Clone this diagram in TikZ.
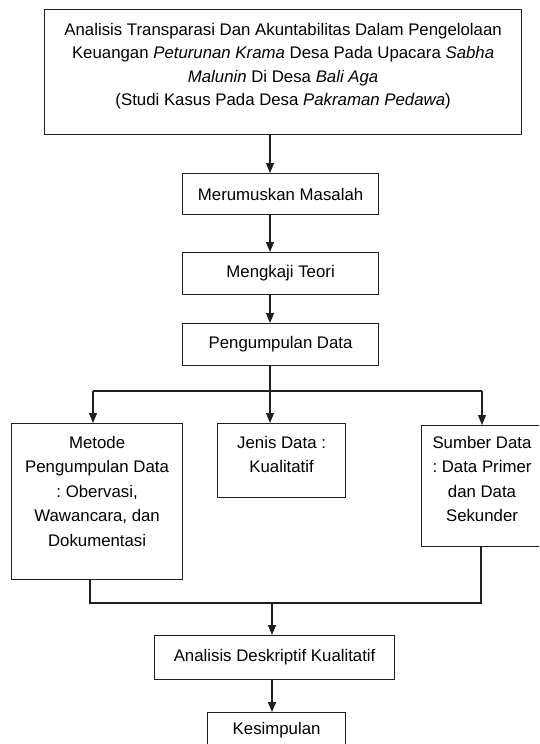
\documentclass[tikz,border=0pt]{standalone}
\usepackage{fontspec}
\setmainfont{Liberation Sans}
\usetikzlibrary{arrows.meta,positioning}
\def\normaledge{1.2}
\definecolor{edgeblack}{rgb}{0.12,0.12,0.12}
\tikzset{
  box/.style={draw=edgeblack, line width=\normaledge, anchor=north west, inner sep=0pt},
  stepbox/.style={box, align=center, font=\fontsize{16.8}{24}\selectfont},
  boxtext/.style={align=center, anchor=north, inner sep=0pt, font=\fontsize{16.8}{24.5}\selectfont\frenchspacing},
  flow/.style={draw=edgeblack, line width=\normaledge, -{Triangle[length=10pt,width=8pt]}},
  link/.style={draw=edgeblack, line width=\normaledge}
}

\begin{document}
\begin{tikzpicture}[x=1pt, y=-1pt]
\clip (0,0) rectangle (539,744);

% spine of the flow
\coordinate (spine) at (270,0);
\coordinate (split) at (0,391);
\coordinate (merge) at (0,603);
\coordinate (leftcol) at (93,0);
\coordinate (rightcol) at (482,0);
\coordinate (leftout) at (90,0);
\coordinate (rightout) at (481,0);
\coordinate (lowspine) at (272,0);

\node [box, minimum width=477, minimum height=125] (judul) at (44,9) {};
\node [boxtext, font=\fontsize{16.8}{23.5}\selectfont] (judultext) at ([yshift=-14]judul.north)
  {Analisis Transparasi Dan Akuntabilitas Dalam Pengelolaan\\
   Keuangan \textit{Peturunan Krama} Desa Pada Upacara \textit{Sabha}\\
   \textit{Malunin} Di Desa \textit{Bali Aga}\\
   (Studi Kasus Pada Desa \textit{Pakraman Pedawa})};

\node [stepbox, minimum width=196, minimum height=41] (rumusan) at (182,173) {Merumuskan Masalah};
\node [stepbox, minimum width=196, minimum height=42] (teori) at (182,252) {Mengkaji Teori};
\node [stepbox, minimum width=196, minimum height=42] (pengumpulan) at (182,323) {Pengumpulan Data};

\draw [flow] (judul.south -| spine) -- (rumusan.north -| spine);
\draw [flow] (rumusan.south -| spine) -- (teori.north -| spine);
\draw [flow] (teori.south -| spine) -- (pengumpulan.north -| spine);

% three branches
\node [box, minimum width=171, minimum height=156] (metode) at (11,423) {};
\node [boxtext] (metodetext) at ([yshift=-13]metode.north)
  {Metode\\ Pengumpulan Data\\ : Obervasi,\\ Wawancara, dan\\ Dokumentasi};

\node [box, minimum width=128, minimum height=74] (jenis) at (217,423) {};
\node [boxtext] (jenistext) at ([yshift=-13]jenis.north) {Jenis Data :\\ Kualitatif};

\node [box, minimum width=124, minimum height=121] (sumber) at (421,425) {};
\node [boxtext] (sumbertext) at ([yshift=-11]sumber.north -| rightcol)
  {Sumber Data\\ : Data Primer\\ dan Data\\ Sekunder};

\draw [link] (pengumpulan.south -| spine) -- (split -| spine);
\draw [link] (split -| leftcol) -- (split -| rightcol);
\draw [flow] (split -| leftcol) -- (metode.north -| leftcol);
\draw [flow] (split -| spine) -- (jenis.north -| spine);
\draw [flow] (split -| rightcol) -- (sumber.north -| rightcol);

% merge
\node [stepbox, minimum width=240, minimum height=44] (analisis) at (154,635) {Analisis Deskriptif Kualitatif};
\node [box, minimum width=138, minimum height=50] (kesimpulan) at (207,712) {};
\node [boxtext] (kesimpulantext) at ([yshift=-10]kesimpulan.north) {Kesimpulan};

\draw [link] (metode.south -| leftout) -- (merge -| leftout) -- (merge -| rightout) -- (sumber.south -| rightout);
\draw [flow] (merge -| lowspine) -- (analisis.north -| lowspine);
\draw [flow] (analisis.south -| lowspine) -- (kesimpulan.north -| lowspine);

\end{tikzpicture}
\end{document}
